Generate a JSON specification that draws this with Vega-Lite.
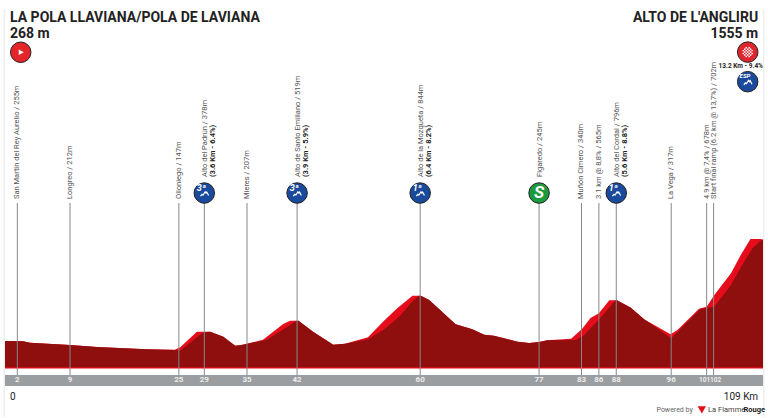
{"$schema":"https://vega.github.io/schema/vega-lite/v6.json","width":768,"height":418,"autosize":{"type":"fit","contains":"padding"},"padding":0,"background":"white","config":{"view":{"stroke":null},"text":{"font":"Roboto"}},
"datasets":{
"top":[{"km":0,"elev":268},{"km":2.6,"elev":264},{"km":3.6,"elev":247},{"km":9.35,"elev":218},{"km":13.2,"elev":192},{"km":20.4,"elev":163},{"km":24.4,"elev":158},{"km":25.2,"elev":189},{"km":27.6,"elev":385},{"km":29.5,"elev":385},{"km":31.4,"elev":322},{"km":33.1,"elev":209},{"km":34,"elev":218},{"km":37.1,"elev":284},{"km":40,"elev":482},{"km":41,"elev":524},{"km":42.2,"elev":524},{"km":44.3,"elev":385},{"km":47.2,"elev":221},{"km":48.9,"elev":234},{"km":52.2,"elev":315},{"km":54.5,"elev":524},{"km":56.4,"elev":680},{"km":58.6,"elev":839},{"km":59.8,"elev":839},{"km":61,"elev":785},{"km":64.8,"elev":479},{"km":67.2,"elev":415},{"km":68.9,"elev":347},{"km":70.3,"elev":335},{"km":73.7,"elev":259},{"km":75.4,"elev":243},{"km":76.8,"elev":255},{"km":78,"elev":277},{"km":81.4,"elev":297},{"km":83,"elev":423},{"km":84.2,"elev":558},{"km":85.4,"elev":617},{"km":86.9,"elev":781},{"km":88,"elev":781},{"km":90,"elev":688},{"km":91.9,"elev":542},{"km":95.7,"elev":352},{"km":96.7,"elev":407},{"km":99.8,"elev":675},{"km":100.9,"elev":700},{"km":102,"elev":848},{"km":104.4,"elev":1122},{"km":105.8,"elev":1352},{"km":107.2,"elev":1555},{"km":108.7,"elev":1555},{"km":109,"elev":1542}],
"dark":[{"km":0,"elev":268},{"km":2.6,"elev":264},{"km":3.6,"elev":247},{"km":9.35,"elev":218},{"km":13.2,"elev":192},{"km":20.4,"elev":163},{"km":24.4,"elev":155},{"km":25.2,"elev":146},{"km":28.5,"elev":378},{"km":29.5,"elev":385},{"km":31.4,"elev":322},{"km":33.1,"elev":209},{"km":34,"elev":218},{"km":37.6,"elev":281},{"km":41,"elev":470},{"km":41.9,"elev":524},{"km":42.2,"elev":524},{"km":44.3,"elev":385},{"km":47.2,"elev":221},{"km":48.9,"elev":234},{"km":52.2,"elev":289},{"km":54.5,"elev":413},{"km":56.8,"elev":583},{"km":58.5,"elev":760},{"km":59.5,"elev":839},{"km":59.8,"elev":839},{"km":61,"elev":785},{"km":64.8,"elev":479},{"km":67.2,"elev":415},{"km":68.9,"elev":347},{"km":70.3,"elev":335},{"km":73.7,"elev":259},{"km":75.4,"elev":243},{"km":76.8,"elev":255},{"km":78,"elev":277},{"km":82.1,"elev":280},{"km":83.3,"elev":344},{"km":85.7,"elev":567},{"km":87.8,"elev":781},{"km":88,"elev":781},{"km":90,"elev":688},{"km":91.9,"elev":542},{"km":95.8,"elev":302},{"km":100,"elev":671},{"km":102,"elev":700},{"km":104.4,"elev":974},{"km":106,"elev":1226},{"km":107.5,"elev":1437},{"km":108.9,"elev":1550},{"km":109,"elev":1542}],
"way":[{"km":1.77,"mark":"2","label":"San Martin del Rey Aurelio / 255m","icon":"none"},{"km":9.35,"mark":"9","label":"Longreo / 212m","icon":"none"},{"km":25,"mark":"25","label":"Olloniego / 147m","icon":"none"},{"km":28.66,"mark":"29","label":"Alto del Padrún / 378m","detail":"(3.6 Km - 6.4%)","icon":"climb","cat":"3ª"},{"km":34.8,"mark":"35","label":"Mieres / 207m","icon":"none"},{"km":42,"mark":"42","label":"Alto de Santo Emiliano / 519m","detail":"(3.9 Km - 5.9%)","icon":"climb","cat":"3ª"},{"km":59.7,"mark":"60","label":"Alto de la Mozqueta / 844m","detail":"(6.4 Km - 8.2%)","icon":"climb","cat":"1ª"},{"km":76.8,"mark":"77","label":"Figaredo / 245m","icon":"sprint"},{"km":82.9,"mark":"83","label":"Muñón Cimero / 340m","icon":"none"},{"km":85.4,"mark":"86","label":"3.1 km @ 8,8% / 565m","icon":"none"},{"km":87.9,"mark":"88","label":"Alto del Cordal / 796m","detail":"(5.6 Km - 8.8%)","icon":"climb","cat":"1ª"},{"km":95.8,"mark":"96","label":"La Vega / 317m","icon":"none"},{"km":100.9,"mark":"101","label":"4.9 km @ 7,4% / 678m","icon":"none"},{"km":101.9,"mark":"102","label":"Start final ramp (6.2 km @ 13,7%) / 702m","icon":"none"}]
},
"encoding":{"x":{"field":"km","type":"quantitative","scale":{"domain":[-0.72,109.72],"nice":false,"zero":false},"axis":null},"y":{"type":"quantitative","scale":{"domain":[-703,4568],"nice":false,"zero":false},"axis":null}},
"layer":[
{"data":{"values":[{"km":-0.1,"elev":4450,"bottom":-690},{"km":109.1,"elev":4450,"bottom":-690}]},"mark":{"type":"rule","color":"#eeeeee","strokeWidth":1.5},"encoding":{"y":{"field":"elev"},"y2":{"field":"bottom"}}},
{"data":{"name":"top"},"mark":{"type":"area","color":"#e50d1b","interpolate":"linear"},"encoding":{"y":{"field":"elev"},"y2":{"datum":-80}}},
{"data":{"name":"dark"},"mark":{"type":"area","color":"#8f0e0e","interpolate":"linear"},"encoding":{"y":{"field":"elev"},"y2":{"datum":-62}}},
{"data":{"values":[{"km":0,"end":109,"elev":-161,"low":-299}]},"mark":{"type":"rect","color":"#9b9ea0"},"encoding":{"y":{"field":"elev"},"x2":{"field":"end"},"y2":{"field":"low"}}},
{"data":{"name":"way"},"mark":{"type":"rule","color":"#85878a","strokeWidth":1},"encoding":{"y":{"datum":2008},"y2":{"datum":-161}}},
{"data":{"name":"way"},"transform":[{"filter":"datum.icon==='none'"}],"mark":{"type":"text","angle":270,"align":"left","baseline":"middle","dy":0,"fontSize":7.5,"color":"#555555"},"encoding":{"y":{"datum":2059},"text":{"field":"label"}}},
{"data":{"name":"way"},"transform":[{"filter":"datum.icon!=='none'"}],"mark":{"type":"text","angle":270,"align":"left","baseline":"middle","dy":1,"fontSize":7.5,"color":"#555555"},"encoding":{"y":{"datum":2336},"text":{"field":"label"}}},
{"data":{"name":"way"},"transform":[{"filter":"datum.detail"}],"mark":{"type":"text","angle":270,"align":"left","baseline":"middle","dy":9,"fontSize":7.5,"fontWeight":"bold","color":"#222222"},"encoding":{"y":{"datum":2336},"text":{"field":"detail"}}},
{"data":{"name":"way"},"transform":[{"filter":"datum.mark!=='101'&&datum.mark!=='102'"}],"mark":{"type":"text","align":"center","baseline":"middle","fontSize":8,"fontWeight":"bold","color":"#ededed"},"encoding":{"y":{"datum":-230},"text":{"field":"mark"}}},
{"data":{"name":"way"},"transform":[{"filter":"datum.mark==='101'"}],"mark":{"type":"text","align":"center","baseline":"middle","fontSize":6.5,"fontWeight":"bold","color":"#ededed","dx":-2},"encoding":{"y":{"datum":-230},"text":{"field":"mark"}}},
{"data":{"name":"way"},"transform":[{"filter":"datum.mark==='102'"}],"mark":{"type":"text","align":"center","baseline":"middle","fontSize":6.5,"fontWeight":"bold","color":"#ededed","dx":2},"encoding":{"y":{"datum":-230},"text":{"field":"mark"}}},
{"data":{"name":"way"},"transform":[{"filter":"datum.icon==='climb'"}],"mark":{"type":"point","filled":true,"fill":"#1a4a9c","stroke":"#222222","strokeWidth":1,"size":420,"shape":"circle","opacity":1},"encoding":{"y":{"datum":2134}}},
{"data":{"name":"way"},"transform":[{"filter":"datum.icon==='climb'"}],"mark":{"type":"point","filled":false,"stroke":"white","strokeWidth":1.2,"size":420,"opacity":1,"shape":"M-.38,.3 L-.22,.12 L-.12,.2 L.08,-.12 L.16,0 L.24,-.1 L.42,.25"},"encoding":{"y":{"datum":2134}}},
{"data":{"name":"way"},"transform":[{"filter":"datum.icon==='climb'"}],"mark":{"type":"text","fontSize":9,"fontStyle":"italic","fontWeight":"bold","color":"white","align":"center","baseline":"middle","dx":-3,"dy":-5},"encoding":{"y":{"datum":2134},"text":{"field":"cat"}}},
{"data":{"name":"way"},"transform":[{"filter":"datum.icon==='sprint'"}],"mark":{"type":"point","filled":true,"fill":"#1c9a3e","stroke":"#222222","strokeWidth":1,"size":420,"shape":"circle","opacity":1},"encoding":{"y":{"datum":2134}}},
{"data":{"values":[{"km":76.8,"elev":2134,"t":"S"}]},"mark":{"type":"text","fontSize":17,"fontWeight":"bold","fontStyle":"italic","color":"white","align":"center","baseline":"middle"},"encoding":{"y":{"field":"elev"},"text":{"field":"t"}}},
{"data":{"values":[{"km":2.26,"elev":3909}]},"mark":{"type":"point","filled":true,"fill":"#e4262a","stroke":"#222222","strokeWidth":1,"size":420,"shape":"circle","opacity":1},"encoding":{"y":{"field":"elev"}}},
{"data":{"values":[{"km":2.26,"elev":3909}]},"mark":{"type":"point","filled":true,"fill":"white","size":420,"opacity":1,"shape":"M-.2,-.26 L.3,0 L-.2,.26 Z"},"encoding":{"y":{"field":"elev"}}},
{"data":{"values":[{"km":106.8,"elev":3911}]},"mark":{"type":"point","filled":true,"fill":"#e0262c","stroke":"#222222","strokeWidth":1,"size":420,"shape":"circle","opacity":1},"encoding":{"y":{"field":"elev"}}},
{"data":{"values":[{"km":106.8,"elev":3911}]},"mark":{"type":"point","filled":true,"fill":"white","size":420,"opacity":1,"shape":"M-.214,-.5h.143v.143h-.143zM.071,-.5h.143v.143h-.143zM-.357,-.357h.143v.143h-.143zM-.071,-.357h.143v.143h-.143zM.214,-.357h.143v.143h-.143zM-.5,-.214h.143v.143h-.143zM-.214,-.214h.143v.143h-.143zM.071,-.214h.143v.143h-.143zM.357,-.214h.143v.143h-.143zM-.357,-.071h.143v.143h-.143zM-.071,-.071h.143v.143h-.143zM.214,-.071h.143v.143h-.143zM-.5,.071h.143v.143h-.143zM-.214,.071h.143v.143h-.143zM.071,.071h.143v.143h-.143zM.357,.071h.143v.143h-.143zM-.357,.214h.143v.143h-.143zM-.071,.214h.143v.143h-.143zM.214,.214h.143v.143h-.143zM-.214,.357h.143v.143h-.143zM.071,.357h.143v.143h-.143z"},"encoding":{"y":{"field":"elev"}}},
{"data":{"values":[{"km":106.8,"elev":3538}]},"mark":{"type":"point","filled":true,"fill":"#1a4a9c","stroke":"#222222","strokeWidth":1,"size":420,"shape":"circle","opacity":1},"encoding":{"y":{"field":"elev"}}},
{"data":{"values":[{"km":106.8,"elev":3538}]},"mark":{"type":"point","filled":false,"stroke":"white","strokeWidth":1.2,"size":420,"opacity":1,"shape":"M-.38,.3 L-.22,.12 L-.12,.2 L.08,-.12 L.16,0 L.24,-.1 L.42,.25"},"encoding":{"y":{"field":"elev"}}},
{"data":{"values":[{"km":106.4,"elev":3610,"t":"ESP"}]},"mark":{"type":"text","fontSize":6,"fontStyle":"italic","fontWeight":"bold","color":"white","align":"center","baseline":"middle"},"encoding":{"y":{"field":"elev"},"text":{"field":"t"}}},
{"data":{"values":[{"km":105.8,"elev":3732,"t":"13.2 Km - 9.4%"}]},"mark":{"type":"text","fontSize":6.5,"fontWeight":"bold","color":"#222222","align":"center","baseline":"middle"},"encoding":{"y":{"field":"elev"},"text":{"field":"t"}}},
{"data":{"values":[{"km":0.72,"elev":4294,"t":"LA POLA LLAVIANA/POLA DE LAVIANA"},{"km":0.72,"elev":4089,"t":"268 m"}]},"mark":{"type":"text","fontSize":14,"fontWeight":"bold","color":"#222222","align":"left","baseline":"alphabetic"},"encoding":{"y":{"field":"elev"},"text":{"field":"t"}}},
{"data":{"values":[{"km":108.3,"elev":4294,"t":"ALTO DE L'ANGLIRU"},{"km":108.3,"elev":4089,"t":"1555 m"}]},"mark":{"type":"text","fontSize":14,"fontWeight":"bold","color":"#222222","align":"right","baseline":"alphabetic"},"encoding":{"y":{"field":"elev"},"text":{"field":"t"}}},
{"data":{"values":[{"km":0.72,"elev":-476,"t":"0"}]},"mark":{"type":"text","fontSize":10,"color":"#222222","align":"left","baseline":"alphabetic"},"encoding":{"y":{"field":"elev"},"text":{"field":"t"}}},
{"data":{"values":[{"km":108.3,"elev":-476,"t":"109 Km"}]},"mark":{"type":"text","fontSize":10,"color":"#222222","align":"right","baseline":"alphabetic"},"encoding":{"y":{"field":"elev"},"text":{"field":"t"}}},
{"data":{"values":[{"km":98.9,"elev":-602,"t":"Powered by"}]},"mark":{"type":"text","fontSize":7,"color":"#666666","align":"right","baseline":"middle"},"encoding":{"y":{"field":"elev"},"text":{"field":"t"}}},
{"data":{"values":[{"km":100.2,"elev":-602}]},"mark":{"type":"point","filled":true,"fill":"#e50d1b","size":70,"shape":"triangle-down","opacity":1},"encoding":{"y":{"field":"elev"}}},
{"data":{"values":[{"km":101.1,"elev":-602,"t":"La Flamme"}]},"mark":{"type":"text","fontSize":7.5,"color":"#444444","align":"left","baseline":"middle"},"encoding":{"y":{"field":"elev"},"text":{"field":"t"}}},
{"data":{"values":[{"km":109.3,"elev":-602,"t":"Rouge"}]},"mark":{"type":"text","fontSize":7.5,"fontWeight":"bold","color":"#222222","align":"right","baseline":"middle"},"encoding":{"y":{"field":"elev"},"text":{"field":"t"}}}
]}
